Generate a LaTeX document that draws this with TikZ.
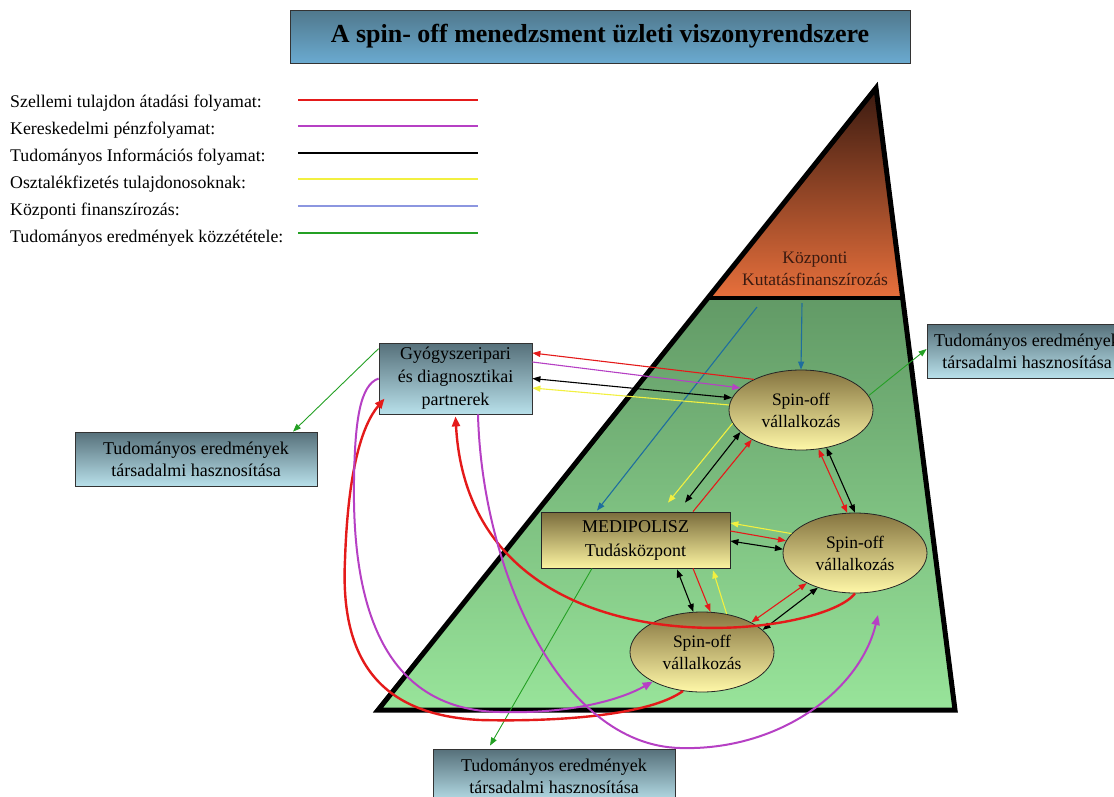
\documentclass[tikz,border=0pt]{standalone}
\usepackage{fontspec}
\setmainfont{Liberation Serif}
\usetikzlibrary{arrows.meta,shapes.geometric}
\definecolor{titleTop}{HTML}{50788C}
\definecolor{titleBot}{HTML}{6AAAD0}
\definecolor{slateTop}{HTML}{56707A}
\definecolor{slateBot}{HTML}{B8E0EA}
\definecolor{ellTop}{HTML}{857440}
\definecolor{ellBot}{HTML}{FFF8A8}
\definecolor{mediTop}{HTML}{7A6C3C}
\definecolor{mediBot}{HTML}{FBF3A0}
\definecolor{brTop}{HTML}{3A1A10}
\definecolor{brBot}{HTML}{E8703C}
\definecolor{grTop}{HTML}{629A66}
\definecolor{grBot}{HTML}{98E49A}
\definecolor{cRed}{HTML}{E41A1A}
\definecolor{cMag}{HTML}{B640C4}
\definecolor{cYel}{HTML}{F2F040}
\definecolor{cLblue}{HTML}{8C96E0}
\definecolor{cGreen}{HTML}{24A024}
\definecolor{cTeal}{HTML}{1E6E9E}
\definecolor{txtBrown}{HTML}{3A1A10}
\begin{document}
\begin{tikzpicture}[x=1pt,y=-1pt,
  lgtext/.style={anchor=west, font=\fontsize{17.8}{20}\selectfont, inner sep=0pt},
  lgline/.style={line width=2.2pt},
  slatebox/.style={draw=black!80, line width=0.8pt, top color=slateTop, bottom color=slateBot,
     align=center, font=\fontsize{18}{22}\selectfont, inner sep=0pt},
  spin/.style={ellipse, draw=black!85, line width=0.8pt, top color=ellTop, bottom color=ellBot,
     minimum width=144pt, minimum height=80pt, inner sep=0pt, align=center,
     font=\fontsize{17.5}{22}\selectfont},
  flowarr/.style={line width=1.1pt, -{Triangle[length=8pt,width=6pt]}},
  dblarr/.style={line width=1.1pt, {Triangle[length=8pt,width=6pt]}-{Triangle[length=8pt,width=6pt]}},
  bigarr/.style={line width=2.4pt, -{Triangle[length=10pt,width=8pt]}},
]
\useasboundingbox (0,0) rectangle (1114,796);

% title
\node[draw=black!80, line width=0.8pt, top color=titleTop, bottom color=titleBot,
  minimum width=620pt, minimum height=53pt, inner sep=0pt,
  font=\fontsize{26}{30}\selectfont\bfseries] (title) at (600,36.5)
  {A spin- off menedzsment üzleti viszonyrendszere};

% legend
\node[lgtext] (l1) at (10,103) {Szellemi tulajdon átadási folyamat:};
\node[lgtext] (l2) at (10,130) {Kereskedelmi pénzfolyamat:};
\node[lgtext] (l3) at (10,157) {Tudományos Információs folyamat:};
\node[lgtext] (l4) at (10,184) {Osztalékfizetés tulajdonosoknak:};
\node[lgtext] (l5) at (10,211) {Központi finanszírozás:};
\node[lgtext] (l6) at (10,238) {Tudományos eredmények közzététele:};
\coordinate (m1a) at (298,100); \coordinate (m1b) at (478,100);
\coordinate (m2a) at (298,126); \coordinate (m2b) at (478,126);
\coordinate (m3a) at (298,153); \coordinate (m3b) at (478,153);
\coordinate (m4a) at (298,179); \coordinate (m4b) at (478,179);
\coordinate (m5a) at (298,206); \coordinate (m5b) at (478,206);
\coordinate (m6a) at (298,233); \coordinate (m6b) at (478,233);
\draw[lgline, cRed] (m1a) -- (m1b);
\draw[lgline, cMag] (m2a) -- (m2b);
\draw[lgline, black] (m3a) -- (m3b);
\draw[lgline, cYel] (m4a) -- (m4b);
\draw[lgline, cLblue] (m5a) -- (m5b);
\draw[lgline, cGreen] (m6a) -- (m6b);

% pyramid
\coordinate (apex) at (876,88);
\coordinate (bl) at (378,710);
\coordinate (br) at (955,710);
\coordinate (sl) at (708,298);
\coordinate (sr) at (903,298);
\shade[top color=brTop, bottom color=brBot] (apex) -- (sl) -- (sr) -- cycle;
\shade[top color=grTop, bottom color=grBot] (sl) -- (bl) -- (br) -- (sr) -- cycle;
\draw[line width=5pt, line join=miter] (apex) -- (bl) -- (br) -- cycle;
\draw[line width=4pt] (sl) -- (sr);
\node[align=center, text=txtBrown, font=\fontsize{17.5}{22}\selectfont, inner sep=0pt] (kozp) at (815,269)
  {Központi\\Kutatásfinanszírozás};

% nodes
\node[slatebox, font=\fontsize{18}{23}\selectfont, minimum width=153pt, minimum height=71pt] (lb) at (455.5,378.5)
  {Gyógyszeripari\\és diagnosztikai\\partnerek};
\node[slatebox, minimum width=242pt, minimum height=54pt] (lbb) at (196,459)
  {Tudományos eredmények\\társadalmi hasznosítása};
\node[slatebox, minimum width=200pt, minimum height=54pt] (rb) at (1027,351)
  {Tudományos eredmények\\társadalmi hasznosítása};
\node[slatebox, minimum width=242pt, minimum height=54pt] (bb) at (554,776)
  {Tudományos eredmények\\társadalmi hasznosítása};
\node[draw=black!85, line width=0.8pt, top color=mediTop, bottom color=mediBot,
  minimum width=189pt, minimum height=56pt, inner sep=0pt, align=center,
  font=\fontsize{18}{24}\selectfont] (medi) at (635.5,540) {MEDIPOLISZ\\Tudásközpont};
\node[spin] (sp1) at (801,410) {Spin-off\\vállalkozás};
\node[spin] (sp2) at (855,553) {Spin-off\\vállalkozás};
\node[spin] (sp3) at (702,652) {Spin-off\\vállalkozás};

% central funding (teal)
\coordinate (f1) at (757,307);
\coordinate (f2) at (802,303);
\draw[flowarr, cTeal] (f1) -- ([xshift=-38.5pt,yshift=1pt]medi.north);
\draw[flowarr, cTeal] (f2) -- (sp1.north);

% partners <-> spin-off 1
\draw[flowarr, cRed] (sp1.147) -- ([yshift=25.5pt]lb.east);
\draw[flowarr, cMag] ([yshift=16.5pt]lb.east) -- (sp1.160);
\draw[dblarr, black] (lb.east) -- (sp1.170);
\draw[flowarr, cYel] (sp1.176) -- ([yshift=-9.5pt]lb.east);

% spin-off 1 <-> MEDIPOLISZ
\draw[flowarr, cYel] (sp1.191) -- ([xshift=32.5pt,yshift=9pt]medi.north);
\draw[dblarr, black] (sp1.200) -- ([xshift=49.5pt,yshift=9pt]medi.north);
\draw[flowarr, cRed] ([xshift=57.5pt]medi.north) -- (sp1.211);

% spin-off 1 <-> spin-off 2
\draw[dblarr, cRed] (sp1.294) -- (sp2.101);
\draw[dblarr, black] (sp1.304) -- (sp2.north);

% MEDIPOLISZ <-> spin-off 2
\draw[flowarr, cYel] (sp2.163) -- ([yshift=17pt]medi.east);
\draw[flowarr, cRed] ([yshift=9pt]medi.east) -- (sp2.170);
\draw[dblarr, black] ([yshift=-1pt]medi.east) -- (sp2.177);

% MEDIPOLISZ <-> spin-off 3
\draw[dblarr, black] ([xshift=41.5pt,yshift=-1pt]medi.south) -- (sp3.102);
\draw[flowarr, cRed] ([xshift=57.5pt]medi.south) -- (sp3.78);
\draw[flowarr, cYel] (sp3.57) -- ([xshift=77.5pt,yshift=-2pt]medi.south);

% spin-off 2 <-> spin-off 3
\draw[dblarr, cRed] (sp3.31) -- (sp2.212);
\draw[dblarr, black] (sp3.20) -- (sp2.223);

% publication (green)
\draw[flowarr, line width=0.9pt, cGreen] ([yshift=-6pt]lb.north west) -- ([xshift=97pt]lbb.north);
\draw[flowarr, line width=0.9pt, cGreen] (sp1.12) -- ([yshift=2pt]rb.west);
\draw[flowarr, line width=0.9pt, cGreen] ([xshift=-43.5pt]medi.south) -- ([xshift=-64pt,yshift=3pt]bb.north);

% big curves
\draw[bigarr, cRed] (sp2.270) .. controls (820,640) and (470,680) .. ([yshift=-2pt]lb.south);
\draw[bigarr, cRed] (sp3.244) .. controls (650,715) and (560,722) .. (480,720)
   .. controls (380,715) and (340,660) .. (345,560)
   .. controls (348,470) and (362,425) .. ([xshift=6pt,yshift=-20pt]lb.west);
\draw[line width=2pt, cMag, -{Triangle[length=10pt,width=8pt]}] (lb.west) .. controls (360,385) and (355,420) .. (354,480)
   .. controls (352,600) and (380,710) .. (500,712)
   .. controls (570,714) and (620,700) .. (sp3.211);
\coordinate (magEnd) at (878,615);
\draw[line width=2pt, cMag, -{Triangle[length=10pt,width=8pt]}] ([xshift=22.5pt]lb.south) .. controls (482,570) and (560,745) .. (680,748)
   .. controls (780,751) and (860,690) .. (magEnd);
\end{tikzpicture}
\end{document}
